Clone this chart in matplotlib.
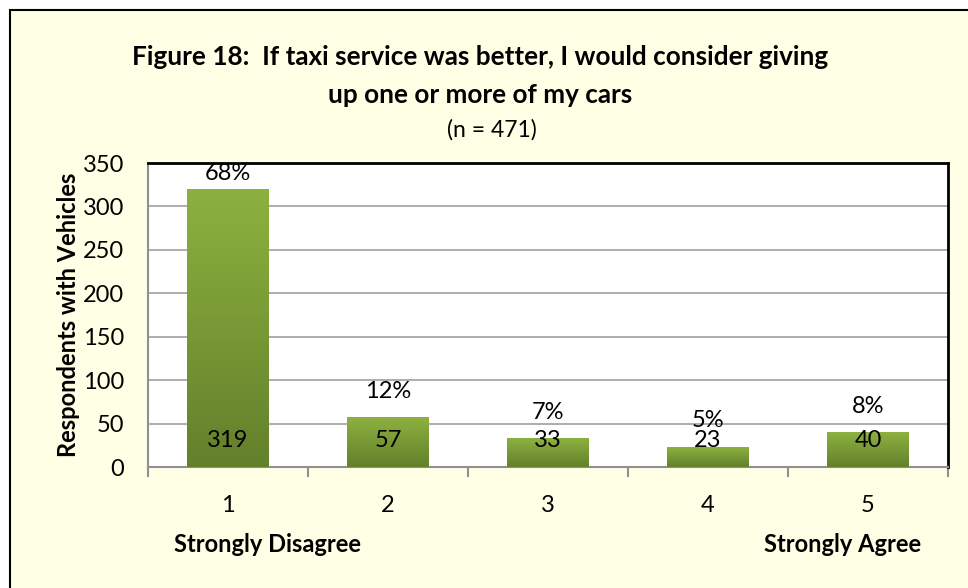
import numpy as np
import matplotlib.pyplot as plt
from matplotlib.patches import Rectangle
from matplotlib.colors import LinearSegmentedColormap

categories = ['1', '2', '3', '4', '5']
counts = [319, 57, 33, 23, 40]
percents = ['68%', '12%', '7%', '5%', '8%']
yticks = [0, 50, 100, 150, 200, 250, 300, 350]

plt.rcParams['font.family'] = ['Lato', 'DejaVu Sans']

bg = '#FFFFE6'
fig = plt.figure(figsize=(9.68, 5.88), dpi=100)
fig.patch.set_facecolor('white')

# outer chart frame (right and bottom edges run off the image)
fig.patches.append(Rectangle((10 / 968, -0.1), 1.2, 1.1 - 10 / 588, transform=fig.transFigure,
                             facecolor=bg, edgecolor='black', linewidth=1.5, zorder=-1))

ax = fig.add_axes([148 / 968, (588 - 467) / 588, 800 / 968, 304 / 588])
ax.set_facecolor('white')

x = np.arange(len(categories))
bars = ax.bar(x, counts, width=0.51, color='#7A9A35', zorder=2)

# vertical gradient on each bar
grad = np.linspace(0, 1, 256).reshape(-1, 1)
cmap = LinearSegmentedColormap.from_list('g', ['#63802B', '#8DB13F'])
for b in bars:
    bx, by, bw, bh = b.get_x(), b.get_y(), b.get_width(), b.get_height()
    ax.imshow(grad, extent=[bx, bx + bw, by, by + bh], origin='lower', cmap=cmap,
              aspect='auto', zorder=3)

fs = 17
for i, v in enumerate(counts):
    ax.text(i, min(v + 30, 338), percents[i], ha='center', va='center', fontsize=fs, zorder=5)
    ax.text(i, 31, str(v), ha='center', va='center', fontsize=fs, zorder=5)

ax.set_xlim(-0.5, 4.5)
ax.set_ylim(0, 350)
ax.set_yticks(yticks)
ax.set_yticklabels([str(t) for t in yticks], fontsize=fs)
ax.yaxis.grid(True, color='#A0A0A0', linewidth=1.2, zorder=0)
ax.set_axisbelow(True)
ax.tick_params(axis='y', length=0, pad=17)

ax.set_xticks(x)
ax.set_xticklabels(categories, fontsize=fs)
ax.tick_params(axis='x', length=0, pad=20)
ax.set_xticks(np.arange(-0.5, 5, 1), minor=True)
ax.tick_params(axis='x', which='minor', length=7, color='#909090', width=1.5, direction='out')

for s in ['top', 'right']:
    ax.spines[s].set_color('black')
    ax.spines[s].set_linewidth(2)
for s in ['left', 'bottom']:
    ax.spines[s].set_color('#909090')
    ax.spines[s].set_linewidth(1.5)

ax.set_ylabel('Respondents with Vehicles', fontsize=fs, fontweight='bold', labelpad=2)

fig.text(480 / 968, 1 - 57 / 588, 'Figure 18:  If taxi service was better, I would consider giving',
         ha='center', va='center', fontsize=18.8, fontweight='bold')
fig.text(480 / 968, 1 - 95 / 588, 'up one or more of my cars',
         ha='center', va='center', fontsize=18.8, fontweight='bold')
fig.text(492 / 968, 1 - 130 / 588, '(n = 471)', ha='center', va='center', fontsize=16.5)

fig.text(268 / 968, 1 - 545 / 588, 'Strongly Disagree', ha='center', va='center',
         fontsize=fs, fontweight='bold')
fig.text(843 / 968, 1 - 545 / 588, 'Strongly Agree', ha='center', va='center',
         fontsize=fs, fontweight='bold')

fig.savefig('out.png', dpi=100, facecolor=fig.get_facecolor())
